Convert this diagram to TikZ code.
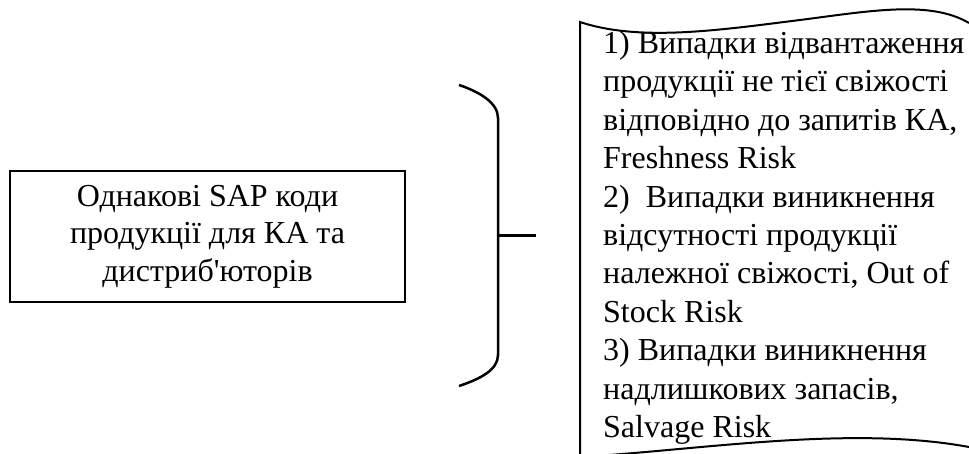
\documentclass[tikz,border=0pt]{standalone}
\usepackage{fontspec}
\setmainfont{Liberation Serif}[Ligatures=TeXOff]
\begin{document}
\begin{tikzpicture}[x=1pt,y=-1pt,
  srcbox/.style={draw,line width=2.8pt,minimum width=395pt,minimum height=131pt,align=center,inner sep=0pt,font=\fontsize{32}{37.5}\selectfont},
  bracestroke/.style={line width=2.5pt,line cap=butt},
  tickstroke/.style={line width=3pt},
  docstroke/.style={line width=2pt},
  doctext/.style={align=left,anchor=north west,inner sep=0pt,font=\fontsize{32}{38.4}\selectfont}]
\useasboundingbox (0,0) rectangle (969,454);
\fill[white] (0,0) rectangle (969,454);
% left box
\node[srcbox] (src) at (207.5,236.5) {Однакові SAP коди\\продукції для КА та\\дистриб'юторів};
% brace
\coordinate (btop) at (459,85);
\coordinate (bup) at (498,118);
\coordinate (bmid) at (498,236);
\coordinate (blow) at (498,355);
\coordinate (bbot) at (459,386);
\coordinate (tickend) at (536,236);
\draw[bracestroke] (btop) .. controls (480,92) and (498,103) .. (bup) -- (blow)
  .. controls (498,370) and (480,379) .. (bbot);
\draw[tickstroke] (bmid) -- (tickend);
% document shape
\coordinate (dtl) at (580,22);
\coordinate (dbl) at (580,457);
\draw[docstroke] (969,23) .. controls (930,0) and (870,11) .. (800,20)
  .. controls (720,30) and (640,42) .. (dtl) -- (dbl)
  .. controls (700,450) and (850,425) .. (969,447);
\node[doctext] (risks) at (603,31) {1) Випадки відвантаження\\продукції не тієї свіжості\\відповідно до запитів КА,\\Freshness Risk\\2)\ \ Випадки виникнення\\відсутності продукції\\належної свіжості, Out of\\Stock Risk\\3) Випадки виникнення\\надлишкових запасів,\\Salvage Risk};
\end{tikzpicture}
\end{document}
